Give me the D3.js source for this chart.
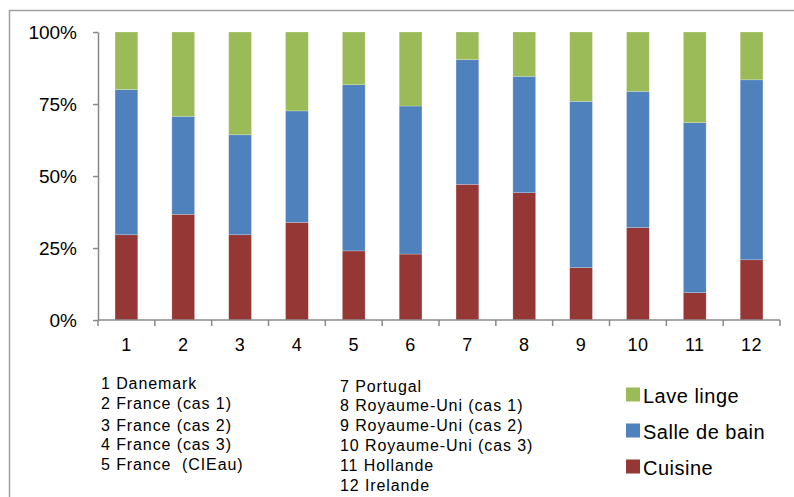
<!DOCTYPE html>
<html><head><meta charset="utf-8">
<script src="https://cdn.jsdelivr.net/npm/d3@7"></script>
<style>body{margin:0;background:#fff;}svg{display:block;font-family:Arial,"Liberation Sans",sans-serif;}</style>
</head><body>
<svg id="c" width="794" height="497"></svg>
<script>
const categories = ["1","2","3","4","5","6","7","8","9","10","11","12"];
const cuisine     = [0.296,0.367,0.296,0.339,0.240,0.229,0.471,0.442,0.182,0.321,0.095,0.209];
const salleDeBain = [0.504,0.340,0.347,0.387,0.577,0.514,0.433,0.404,0.577,0.473,0.590,0.625];
const laveLinge   = [0.200,0.293,0.357,0.274,0.183,0.257,0.096,0.154,0.241,0.206,0.315,0.166];
const seriesNames = ["Cuisine","Salle de bain","Lave linge"];
const seriesColors = ["#953735","#4F81BD","#9BBB59"];
const yTicks = [0,0.25,0.5,0.75,1];
const countryCol1 = ["1 Danemark","2 France (cas 1)","3 France (cas 2)","4 France (cas 3)","5 France  (CIEau)"];
const countryCol2 = ["7 Portugal","8 Royaume-Uni (cas 1)","9 Royaume-Uni (cas 2)","10 Royaume-Uni (cas 3)","11 Hollande","12 Irelande"];

(function(){
const svg = d3.select("#c");
svg.append("rect").attr("x",9.5).attr("y",10.5).attr("width",800).attr("height",500)
  .attr("fill","none").attr("stroke","#a0a0a0").attr("stroke-width",1.5);

const pLeft=98, pRight=780, pTop=32, pBottom=320;
const x = d3.scaleBand().domain(categories).range([pLeft,pRight]).paddingInner(0.6).paddingOuter(0.3);
const y = d3.scaleLinear().domain([0,1]).range([pBottom,pTop]);

const table = categories.map((c,i)=>({cat:c, "Cuisine":cuisine[i], "Salle de bain":salleDeBain[i], "Lave linge":laveLinge[i]}));
const stack = d3.stack().keys(seriesNames)(table);

const g = svg.append("g");
stack.forEach((layer,li)=>{
  g.selectAll(null).data(layer).join("rect")
    .attr("x",d=>x(d.data.cat)).attr("width",x.bandwidth())
    .attr("y",d=>y(d[1])).attr("height",d=>y(d[0])-y(d[1]))
    .attr("fill",seriesColors[li])
    .attr("stroke","rgba(255,255,255,0.35)").attr("stroke-width",0.6);
});

const yAxis = d3.axisLeft(y).tickValues(yTicks).tickFormat(d3.format(".0%")).tickSize(5).tickSizeOuter(0);
const ya = svg.append("g").attr("transform",`translate(${pLeft},0)`).call(yAxis);
ya.select(".domain").attr("stroke","#888").attr("stroke-width",1.5);
ya.selectAll(".tick line").attr("stroke","#888").attr("stroke-width",1.5);
ya.selectAll(".tick text").attr("font-size",19).attr("fill","#000").attr("x",-21).attr("dy","0.35em");

const xAxis = d3.axisBottom(x).tickSize(0).tickSizeOuter(0);
const xa = svg.append("g").attr("transform",`translate(0,${pBottom})`).call(xAxis);
xa.select(".domain").attr("stroke","#888").attr("stroke-width",1.5).attr("d",`M${pLeft},0H${pRight}`);
xa.selectAll(".tick text").attr("font-size",18).attr("fill","#000").attr("dy","0").attr("y",30.5).attr("letter-spacing",0.5);
const step = x.step();
const bounds = categories.map(c=>x(c)-(step-x.bandwidth())/2).concat([pRight]);
xa.selectAll("line.bt").data(bounds).join("line").attr("class","bt")
  .attr("x1",d=>d).attr("x2",d=>d).attr("y1",0).attr("y2",6)
  .attr("stroke","#888").attr("stroke-width",1.5);

const col1Y=[389,409,431,449.5,470];
svg.selectAll("text.c1").data(countryCol1).join("text").attr("class","c1")
  .attr("x",101).attr("y",(d,i)=>col1Y[i]).attr("font-size",16).attr("letter-spacing",0.9).attr("fill","#000").style("white-space","pre").text(d=>d);
svg.selectAll("text.c2").data(countryCol2).join("text").attr("class","c2")
  .attr("x",340).attr("y",(d,i)=>391.5+i*19.8).attr("font-size",16).attr("letter-spacing",0.9).attr("fill","#000").text(d=>d);

const legendOrder=[2,1,0];
const legY=[402.5,438.5,474.5];
legendOrder.forEach((si,k)=>{
  svg.append("rect").attr("x",626).attr("y",legY[k]-15).attr("width",14).attr("height",14).attr("fill",seriesColors[si]);
  svg.append("text").attr("x",643).attr("y",legY[k]).attr("font-size",20).attr("letter-spacing",0.5).attr("fill","#000").text(seriesNames[si]);
});
})();
</script>
</body></html>
